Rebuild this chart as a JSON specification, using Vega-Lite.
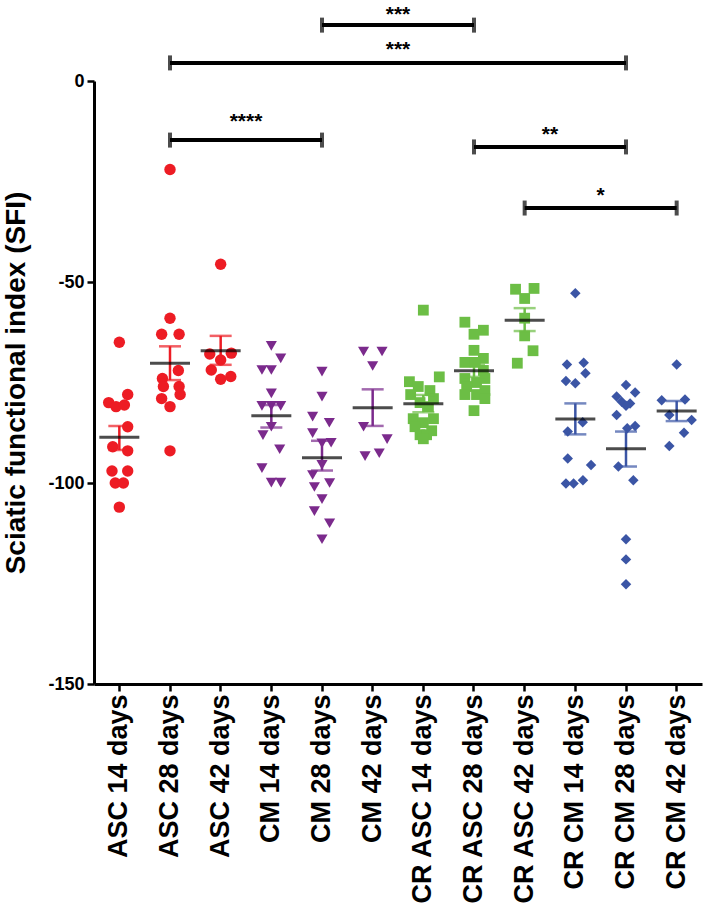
{
  "$schema": "https://vega.github.io/schema/vega-lite/v6.json",
  "autosize": {"type": "none"},
  "padding": {"left": 94, "top": 81, "right": 7, "bottom": 234},
  "width": 608,
  "height": 603,
  "background": "white",
  "config": {
    "view": {"stroke": null},
    "axis": {
      "domainColor": "black", "domainWidth": 3, "tickColor": "black", "tickWidth": 2.5, "tickSize": 7,
      "labelFont": "Liberation Sans", "labelFontWeight": "bold", "labelColor": "black",
      "titleFont": "Liberation Sans", "titleFontWeight": "bold", "titleColor": "black", "grid": false
    },
    "axisX": {"labelAngle": 270, "labelFontSize": 27, "labelPadding": 3, "labelAlign": "right", "labelBaseline": "middle", "labelLimit": 400},
    "axisY": {"labelFontSize": 18, "titleFontSize": 28, "titlePadding": 17, "labelPadding": 3}
  },
  "datasets": {
    "points": [
      {"g":"ASC 14 days","f":"ASC","v":-65,"j":0},{"g":"ASC 14 days","f":"ASC","v":-78,"j":0.33},{"g":"ASC 14 days","f":"ASC","v":-80,"j":-0.42},{"g":"ASC 14 days","f":"ASC","v":-81,"j":-0.13},{"g":"ASC 14 days","f":"ASC","v":-80.6,"j":0.2},{"g":"ASC 14 days","f":"ASC","v":-86,"j":0.33},{"g":"ASC 14 days","f":"ASC","v":-91,"j":-0.26},{"g":"ASC 14 days","f":"ASC","v":-92,"j":0.33},{"g":"ASC 14 days","f":"ASC","v":-97,"j":-0.29},{"g":"ASC 14 days","f":"ASC","v":-97,"j":0.33},{"g":"ASC 14 days","f":"ASC","v":-100,"j":-0.16},{"g":"ASC 14 days","f":"ASC","v":-100,"j":0.16},{"g":"ASC 14 days","f":"ASC","v":-106,"j":0},
      {"g":"ASC 28 days","f":"ASC","v":-22,"j":0},{"g":"ASC 28 days","f":"ASC","v":-59,"j":0},{"g":"ASC 28 days","f":"ASC","v":-63,"j":-0.33},{"g":"ASC 28 days","f":"ASC","v":-63,"j":0.36},{"g":"ASC 28 days","f":"ASC","v":-72,"j":0.33},{"g":"ASC 28 days","f":"ASC","v":-74,"j":-0.3},{"g":"ASC 28 days","f":"ASC","v":-76,"j":-0.26},{"g":"ASC 28 days","f":"ASC","v":-76,"j":0.36},{"g":"ASC 28 days","f":"ASC","v":-78,"j":0.4},{"g":"ASC 28 days","f":"ASC","v":-79,"j":-0.33},{"g":"ASC 28 days","f":"ASC","v":-81,"j":0},{"g":"ASC 28 days","f":"ASC","v":-92,"j":0},
      {"g":"ASC 42 days","f":"ASC","v":-45.6,"j":0},{"g":"ASC 42 days","f":"ASC","v":-67.9,"j":-0.43},{"g":"ASC 42 days","f":"ASC","v":-67.7,"j":0.42},{"g":"ASC 42 days","f":"ASC","v":-69.4,"j":0},{"g":"ASC 42 days","f":"ASC","v":-71.9,"j":-0.37},{"g":"ASC 42 days","f":"ASC","v":-74.2,"j":0},{"g":"ASC 42 days","f":"ASC","v":-73.5,"j":0.4},
      {"g":"CM 14 days","f":"CM","v":-65.9,"j":0},{"g":"CM 14 days","f":"CM","v":-69,"j":0.37},{"g":"CM 14 days","f":"CM","v":-71.9,"j":-0.37},{"g":"CM 14 days","f":"CM","v":-71.9,"j":0},{"g":"CM 14 days","f":"CM","v":-77.7,"j":0},{"g":"CM 14 days","f":"CM","v":-80.8,"j":-0.37},{"g":"CM 14 days","f":"CM","v":-80.8,"j":0},{"g":"CM 14 days","f":"CM","v":-80.8,"j":0.37},{"g":"CM 14 days","f":"CM","v":-86,"j":0},{"g":"CM 14 days","f":"CM","v":-88.1,"j":-0.33},{"g":"CM 14 days","f":"CM","v":-91.6,"j":0.33},{"g":"CM 14 days","f":"CM","v":-96.3,"j":-0.37},{"g":"CM 14 days","f":"CM","v":-99.9,"j":0},{"g":"CM 14 days","f":"CM","v":-99.9,"j":0.37},
      {"g":"CM 28 days","f":"CM","v":-72.3,"j":0},{"g":"CM 28 days","f":"CM","v":-78.5,"j":0},{"g":"CM 28 days","f":"CM","v":-83.5,"j":-0.37},{"g":"CM 28 days","f":"CM","v":-85,"j":0.29},{"g":"CM 28 days","f":"CM","v":-87.6,"j":-0.37},{"g":"CM 28 days","f":"CM","v":-90.1,"j":0},{"g":"CM 28 days","f":"CM","v":-90,"j":0.36},{"g":"CM 28 days","f":"CM","v":-95.5,"j":0},{"g":"CM 28 days","f":"CM","v":-98,"j":-0.37},{"g":"CM 28 days","f":"CM","v":-100,"j":0.3},{"g":"CM 28 days","f":"CM","v":-101,"j":-0.3},{"g":"CM 28 days","f":"CM","v":-104,"j":0},{"g":"CM 28 days","f":"CM","v":-107,"j":-0.3},{"g":"CM 28 days","f":"CM","v":-110,"j":0.3},{"g":"CM 28 days","f":"CM","v":-114,"j":0},
      {"g":"CM 42 days","f":"CM","v":-67.3,"j":-0.36},{"g":"CM 42 days","f":"CM","v":-67.3,"j":0.37},{"g":"CM 42 days","f":"CM","v":-70.9,"j":0},{"g":"CM 42 days","f":"CM","v":-86,"j":-0.36},{"g":"CM 42 days","f":"CM","v":-89.1,"j":0.57},{"g":"CM 42 days","f":"CM","v":-93.3,"j":-0.3},{"g":"CM 42 days","f":"CM","v":-92.6,"j":0.26},
      {"g":"CR ASC 14 days","f":"CR ASC","v":-57,"j":0},{"g":"CR ASC 14 days","f":"CR ASC","v":-73.6,"j":0.63},{"g":"CR ASC 14 days","f":"CR ASC","v":-74.8,"j":-0.55},{"g":"CR ASC 14 days","f":"CR ASC","v":-76,"j":-0.2},{"g":"CR ASC 14 days","f":"CR ASC","v":-77,"j":0.26},{"g":"CR ASC 14 days","f":"CR ASC","v":-78,"j":-0.5},{"g":"CR ASC 14 days","f":"CR ASC","v":-79,"j":0.4},{"g":"CR ASC 14 days","f":"CR ASC","v":-80,"j":-0.13},{"g":"CR ASC 14 days","f":"CR ASC","v":-81,"j":0.2},{"g":"CR ASC 14 days","f":"CR ASC","v":-84,"j":-0.4},{"g":"CR ASC 14 days","f":"CR ASC","v":-84,"j":0.4},{"g":"CR ASC 14 days","f":"CR ASC","v":-85,"j":0},{"g":"CR ASC 14 days","f":"CR ASC","v":-86,"j":-0.33},{"g":"CR ASC 14 days","f":"CR ASC","v":-87,"j":0.33},{"g":"CR ASC 14 days","f":"CR ASC","v":-88,"j":-0.13},{"g":"CR ASC 14 days","f":"CR ASC","v":-88,"j":0.13},{"g":"CR ASC 14 days","f":"CR ASC","v":-89,"j":0},
      {"g":"CR ASC 28 days","f":"CR ASC","v":-60,"j":-0.36},{"g":"CR ASC 28 days","f":"CR ASC","v":-62,"j":0.37},{"g":"CR ASC 28 days","f":"CR ASC","v":-63,"j":0},{"g":"CR ASC 28 days","f":"CR ASC","v":-67,"j":0},{"g":"CR ASC 28 days","f":"CR ASC","v":-69,"j":0.37},{"g":"CR ASC 28 days","f":"CR ASC","v":-70,"j":-0.36},{"g":"CR ASC 28 days","f":"CR ASC","v":-70,"j":0.05},{"g":"CR ASC 28 days","f":"CR ASC","v":-72,"j":0.37},{"g":"CR ASC 28 days","f":"CR ASC","v":-74,"j":-0.36},{"g":"CR ASC 28 days","f":"CR ASC","v":-74,"j":0.43},{"g":"CR ASC 28 days","f":"CR ASC","v":-75,"j":0.1},{"g":"CR ASC 28 days","f":"CR ASC","v":-76,"j":-0.29},{"g":"CR ASC 28 days","f":"CR ASC","v":-77,"j":0.43},{"g":"CR ASC 28 days","f":"CR ASC","v":-78,"j":-0.36},{"g":"CR ASC 28 days","f":"CR ASC","v":-78,"j":0.1},{"g":"CR ASC 28 days","f":"CR ASC","v":-79,"j":0.43},{"g":"CR ASC 28 days","f":"CR ASC","v":-82,"j":0},
      {"g":"CR ASC 42 days","f":"CR ASC","v":-51.8,"j":-0.36},{"g":"CR ASC 42 days","f":"CR ASC","v":-51.6,"j":0.37},{"g":"CR ASC 42 days","f":"CR ASC","v":-54.1,"j":0},{"g":"CR ASC 42 days","f":"CR ASC","v":-59,"j":0},{"g":"CR ASC 42 days","f":"CR ASC","v":-63.4,"j":0},{"g":"CR ASC 42 days","f":"CR ASC","v":-67.1,"j":0.33},{"g":"CR ASC 42 days","f":"CR ASC","v":-70.2,"j":-0.29},
      {"g":"CR CM 14 days","f":"CR CM","v":-52.8,"j":0},{"g":"CR CM 14 days","f":"CR CM","v":-70.5,"j":-0.33},{"g":"CR CM 14 days","f":"CR CM","v":-70.1,"j":0.33},{"g":"CR CM 14 days","f":"CR CM","v":-72.7,"j":0.4},{"g":"CR CM 14 days","f":"CR CM","v":-74.6,"j":-0.37},{"g":"CR CM 14 days","f":"CR CM","v":-75.2,"j":0},{"g":"CR CM 14 days","f":"CR CM","v":-84.9,"j":0.29},{"g":"CR CM 14 days","f":"CR CM","v":-87.2,"j":-0.3},{"g":"CR CM 14 days","f":"CR CM","v":-93.9,"j":-0.3},{"g":"CR CM 14 days","f":"CR CM","v":-95.5,"j":0.62},{"g":"CR CM 14 days","f":"CR CM","v":-100.1,"j":-0.37},{"g":"CR CM 14 days","f":"CR CM","v":-100.1,"j":-0.07},{"g":"CR CM 14 days","f":"CR CM","v":-99.3,"j":0.3},
      {"g":"CR CM 28 days","f":"CR CM","v":-75.6,"j":0},{"g":"CR CM 28 days","f":"CR CM","v":-78.5,"j":-0.37},{"g":"CR CM 28 days","f":"CR CM","v":-77.5,"j":0.36},{"g":"CR CM 28 days","f":"CR CM","v":-79.8,"j":-0.17},{"g":"CR CM 28 days","f":"CR CM","v":-80.2,"j":0.16},{"g":"CR CM 28 days","f":"CR CM","v":-80.8,"j":0},{"g":"CR CM 28 days","f":"CR CM","v":-83.1,"j":-0.37},{"g":"CR CM 28 days","f":"CR CM","v":-85.8,"j":0.36},{"g":"CR CM 28 days","f":"CR CM","v":-86.4,"j":0.05},{"g":"CR CM 28 days","f":"CR CM","v":-95.9,"j":-0.3},{"g":"CR CM 28 days","f":"CR CM","v":-99.3,"j":0.29},{"g":"CR CM 28 days","f":"CR CM","v":-114,"j":0},{"g":"CR CM 28 days","f":"CR CM","v":-119,"j":0},{"g":"CR CM 28 days","f":"CR CM","v":-125.2,"j":0},
      {"g":"CR CM 42 days","f":"CR CM","v":-70.5,"j":0},{"g":"CR CM 42 days","f":"CR CM","v":-79.4,"j":-0.59},{"g":"CR CM 42 days","f":"CR CM","v":-79.2,"j":0.33},{"g":"CR CM 42 days","f":"CR CM","v":-83.1,"j":-0.29},{"g":"CR CM 42 days","f":"CR CM","v":-84.3,"j":0.59},{"g":"CR CM 42 days","f":"CR CM","v":-87.5,"j":0.29},{"g":"CR CM 42 days","f":"CR CM","v":-90.8,"j":-0.29}
    ],
    "summary": [
      {"g":"ASC 14 days","f":"ASC","m":-88.6,"lo":-91.8,"hi":-85.8},
      {"g":"ASC 28 days","f":"ASC","m":-70.2,"lo":-74.4,"hi":-66.0},
      {"g":"ASC 42 days","f":"ASC","m":-67.1,"lo":-70.6,"hi":-63.4},
      {"g":"CM 14 days","f":"CM","m":-83.3,"lo":-86.2,"hi":-80.6},
      {"g":"CM 28 days","f":"CM","m":-93.7,"lo":-96.9,"hi":-89.5},
      {"g":"CM 42 days","f":"CM","m":-81.3,"lo":-85.8,"hi":-76.7},
      {"g":"CR ASC 14 days","f":"CR ASC","m":-80.3,"lo":-82.4,"hi":-78.1},
      {"g":"CR ASC 28 days","f":"CR ASC","m":-72.1,"lo":-73.6,"hi":-70.6},
      {"g":"CR ASC 42 days","f":"CR ASC","m":-59.5,"lo":-62.2,"hi":-56.5},
      {"g":"CR CM 14 days","f":"CR CM","m":-84.1,"lo":-87.9,"hi":-80.2},
      {"g":"CR CM 28 days","f":"CR CM","m":-91.5,"lo":-95.9,"hi":-87.2},
      {"g":"CR CM 42 days","f":"CR CM","m":-82.1,"lo":-84.6,"hi":-79.6}
    ],
    "brackets": [
      {"a":5,"b":8,"mid":6.5,"y":13.9,"ty":15.0,"lab":"***"},
      {"a":2,"b":11,"mid":6.5,"y":4.5,"ty":6.2,"lab":"***"},
      {"a":2,"b":5,"mid":3.5,"y":-14.7,"ty":-11.6,"lab":"****"},
      {"a":8,"b":11,"mid":9.5,"y":-16.4,"ty":-14.9,"lab":"**"},
      {"a":9,"b":12,"mid":10.5,"y":-31.6,"ty":-30.2,"lab":"*"}
    ]
  },
  "layer": [
    {
      "encoding": {
        "x": {
          "field": "g", "type": "nominal", "title": null,
          "scale": {"type": "band", "paddingInner": 0, "paddingOuter": 0,
            "domain": ["ASC 14 days","ASC 28 days","ASC 42 days","CM 14 days","CM 28 days","CM 42 days","CR ASC 14 days","CR ASC 28 days","CR ASC 42 days","CR CM 14 days","CR CM 28 days","CR CM 42 days"]}
        }
      },
      "layer": [
        {
          "data": {"name": "points"},
          "mark": {"type": "point", "filled": true, "opacity": 1},
          "encoding": {
            "xOffset": {"field": "j", "type": "quantitative", "scale": {"domain": [-1, 1]}},
            "y": {"field": "v", "type": "quantitative", "scale": {"domain": [-150, 0], "nice": false, "zero": false},
              "axis": {"values": [-150, -100, -50, 0], "labelExpr": "'' + datum.value"},
              "title": "Sciatic functional index (SFI)"},
            "color": {"field": "f", "type": "nominal", "legend": null,
              "scale": {"domain": ["ASC","CM","CR ASC","CR CM"], "range": ["#ED1C24","#7B2A8C","#6CBE45","#3B55A5"]}},
            "shape": {"field": "f", "type": "nominal", "legend": null,
              "scale": {"domain": ["ASC","CM","CR ASC","CR CM"], "range": ["circle","triangle-down","square","diamond"]}},
            "size": {"field": "f", "type": "nominal", "legend": null,
              "scale": {"domain": ["ASC","CM","CR ASC","CR CM"], "range": [130, 110, 135, 145]}}
          }
        },
        {
          "data": {"name": "summary"},
          "mark": {"type": "rule", "strokeWidth": 2.5},
          "encoding": {
            "y": {"field": "lo", "type": "quantitative"},
            "y2": {"field": "hi"},
            "color": {"field": "f", "type": "nominal", "legend": null}
          }
        },
        {
          "data": {"name": "summary"},
          "mark": {"type": "tick", "size": 22, "thickness": 2.5},
          "encoding": {
            "y": {"field": "lo", "type": "quantitative"},
            "color": {"field": "f", "type": "nominal", "legend": null}
          }
        },
        {
          "data": {"name": "summary"},
          "mark": {"type": "tick", "size": 22, "thickness": 2.5},
          "encoding": {
            "y": {"field": "hi", "type": "quantitative"},
            "color": {"field": "f", "type": "nominal", "legend": null}
          }
        },
        {
          "data": {"name": "summary"},
          "mark": {"type": "tick", "size": 40, "thickness": 3, "color": "black"},
          "encoding": {
            "y": {"field": "m", "type": "quantitative"}
          }
        }
      ]
    },
    {
      "data": {"name": "brackets"},
      "layer": [
        {
          "mark": {"type": "rule", "strokeWidth": 4, "color": "black"},
          "encoding": {
            "x": {"field": "a", "type": "quantitative", "scale": {"domain": [0.5, 12.5], "nice": false, "zero": false}, "axis": null},
            "x2": {"field": "b"},
            "y": {"field": "y", "type": "quantitative"}
          }
        },
        {
          "mark": {"type": "tick", "orient": "vertical", "size": 15, "thickness": 4, "color": "black"},
          "encoding": {
            "x": {"field": "a", "type": "quantitative", "axis": null},
            "y": {"field": "y", "type": "quantitative"}
          }
        },
        {
          "mark": {"type": "tick", "orient": "vertical", "size": 15, "thickness": 4, "color": "black"},
          "encoding": {
            "x": {"field": "b", "type": "quantitative", "axis": null},
            "y": {"field": "y", "type": "quantitative"}
          }
        },
        {
          "mark": {"type": "text", "font": "Liberation Sans", "fontWeight": "bold", "fontSize": 21, "align": "center", "baseline": "alphabetic", "color": "black"},
          "encoding": {
            "x": {"field": "mid", "type": "quantitative", "axis": null},
            "y": {"field": "ty", "type": "quantitative"},
            "text": {"field": "lab"}
          }
        }
      ]
    }
  ],
  "resolve": {"scale": {"x": "independent"}}
}
